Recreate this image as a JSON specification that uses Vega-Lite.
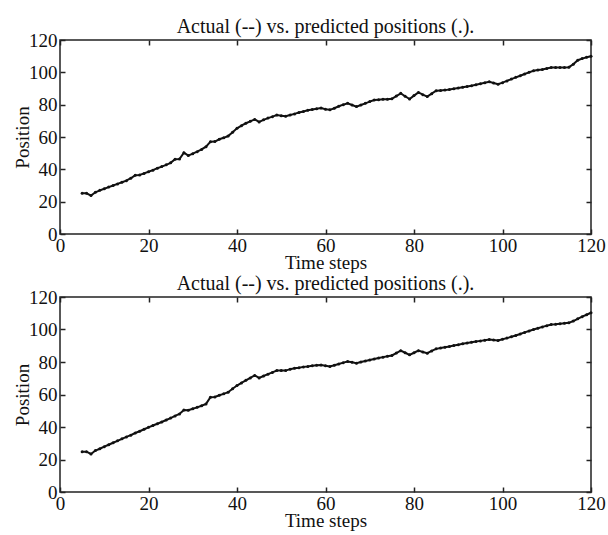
{
  "$schema": "https://vega.github.io/schema/vega-lite/v6.json",
  "background": "white",
  "padding": {"left": 12, "top": 16, "right": 10, "bottom": 0},
  "spacing": 0,
  "datasets": {
    "top": [
      {"t":5,"p":25.2},{"t":6,"p":25.2},{"t":7,"p":23.8},{"t":8,"p":25.8},{"t":9,"p":27},{"t":10,"p":28},{"t":11,"p":29},{"t":12,"p":30},{"t":13,"p":31},{"t":14,"p":32},{"t":15,"p":33},{"t":16,"p":34.5},{"t":17,"p":36.3},{"t":18,"p":36.5},{"t":19,"p":37.5},{"t":20,"p":38.5},{"t":21,"p":39.5},{"t":22,"p":40.7},{"t":23,"p":41.7},{"t":24,"p":42.8},{"t":25,"p":44},{"t":26,"p":46.2},{"t":27,"p":46.4},{"t":28,"p":50.3},{"t":29,"p":48.5},{"t":30,"p":49.7},{"t":31,"p":50.9},{"t":32,"p":52.3},{"t":33,"p":54},{"t":34,"p":57.1},{"t":35,"p":57.2},{"t":36,"p":58.6},{"t":37,"p":59.5},{"t":38,"p":60.6},{"t":39,"p":63},{"t":40,"p":65.4},{"t":41,"p":67},{"t":42,"p":68.5},{"t":43,"p":69.7},{"t":44,"p":70.9},{"t":45,"p":69.3},{"t":46,"p":70.6},{"t":47,"p":71.7},{"t":48,"p":72.6},{"t":49,"p":73.6},{"t":50,"p":73.2},{"t":51,"p":72.8},{"t":52,"p":73.6},{"t":53,"p":74.3},{"t":54,"p":75.2},{"t":55,"p":75.8},{"t":56,"p":76.5},{"t":57,"p":77},{"t":58,"p":77.5},{"t":59,"p":77.9},{"t":60,"p":77.2},{"t":61,"p":76.8},{"t":62,"p":77.8},{"t":63,"p":79},{"t":64,"p":80},{"t":65,"p":80.8},{"t":66,"p":79.8},{"t":67,"p":78.8},{"t":68,"p":79.8},{"t":69,"p":80.8},{"t":70,"p":81.9},{"t":71,"p":82.9},{"t":72,"p":83.1},{"t":73,"p":83.3},{"t":74,"p":83.4},{"t":75,"p":83.6},{"t":76,"p":85.3},{"t":77,"p":87},{"t":78,"p":85.2},{"t":79,"p":83.5},{"t":80,"p":85.6},{"t":81,"p":87.6},{"t":82,"p":86.2},{"t":83,"p":85},{"t":84,"p":86.8},{"t":85,"p":88.6},{"t":86,"p":88.8},{"t":87,"p":89},{"t":88,"p":89.4},{"t":89,"p":89.9},{"t":90,"p":90.3},{"t":91,"p":90.8},{"t":92,"p":91.3},{"t":93,"p":91.7},{"t":94,"p":92.3},{"t":95,"p":92.9},{"t":96,"p":93.5},{"t":97,"p":94.2},{"t":98,"p":93.4},{"t":99,"p":92.6},{"t":100,"p":93.6},{"t":101,"p":94.7},{"t":102,"p":95.8},{"t":103,"p":96.9},{"t":104,"p":97.9},{"t":105,"p":99},{"t":106,"p":100},{"t":107,"p":101},{"t":108,"p":101.4},{"t":109,"p":101.8},{"t":110,"p":102.4},{"t":111,"p":103},{"t":112,"p":103},{"t":113,"p":103},{"t":114,"p":103},{"t":115,"p":103.2},{"t":116,"p":105},{"t":117,"p":107.5},{"t":118,"p":108.5},{"t":119,"p":109.3},{"t":120,"p":110}
    ],
    "bottom": [
      {"t":5,"p":24.8},{"t":6,"p":24.8},{"t":7,"p":23.4},{"t":8,"p":25.5},{"t":9,"p":26.6},{"t":10,"p":27.9},{"t":11,"p":29.1},{"t":12,"p":30.3},{"t":13,"p":31.5},{"t":14,"p":32.7},{"t":15,"p":33.9},{"t":16,"p":35},{"t":17,"p":36.3},{"t":18,"p":37.4},{"t":19,"p":38.6},{"t":20,"p":39.8},{"t":21,"p":40.9},{"t":22,"p":42},{"t":23,"p":43.1},{"t":24,"p":44.3},{"t":25,"p":45.5},{"t":26,"p":46.8},{"t":27,"p":48},{"t":28,"p":50.5},{"t":29,"p":50.3},{"t":30,"p":51.2},{"t":31,"p":52.1},{"t":32,"p":53.1},{"t":33,"p":54.2},{"t":34,"p":58.3},{"t":35,"p":58.5},{"t":36,"p":59.5},{"t":37,"p":60.4},{"t":38,"p":61.4},{"t":39,"p":63.5},{"t":40,"p":65.5},{"t":41,"p":67.1},{"t":42,"p":68.7},{"t":43,"p":70.2},{"t":44,"p":71.7},{"t":45,"p":70.2},{"t":46,"p":71.4},{"t":47,"p":72.5},{"t":48,"p":73.6},{"t":49,"p":74.7},{"t":50,"p":74.7},{"t":51,"p":74.7},{"t":52,"p":75.6},{"t":53,"p":76.1},{"t":54,"p":76.5},{"t":55,"p":77},{"t":56,"p":77.3},{"t":57,"p":77.7},{"t":58,"p":78},{"t":59,"p":78.2},{"t":60,"p":77.7},{"t":61,"p":77.2},{"t":62,"p":78},{"t":63,"p":78.8},{"t":64,"p":79.6},{"t":65,"p":80.3},{"t":66,"p":79.8},{"t":67,"p":79.3},{"t":68,"p":80},{"t":69,"p":80.6},{"t":70,"p":81.2},{"t":71,"p":81.9},{"t":72,"p":82.4},{"t":73,"p":83},{"t":74,"p":83.5},{"t":75,"p":84},{"t":76,"p":85.5},{"t":77,"p":87},{"t":78,"p":85.7},{"t":79,"p":84.4},{"t":80,"p":85.7},{"t":81,"p":87},{"t":82,"p":86.2},{"t":83,"p":85.4},{"t":84,"p":86.8},{"t":85,"p":88.1},{"t":86,"p":88.6},{"t":87,"p":89.1},{"t":88,"p":89.6},{"t":89,"p":90.1},{"t":90,"p":90.6},{"t":91,"p":91.2},{"t":92,"p":91.7},{"t":93,"p":92.2},{"t":94,"p":92.6},{"t":95,"p":93},{"t":96,"p":93.4},{"t":97,"p":93.8},{"t":98,"p":93.5},{"t":99,"p":93.2},{"t":100,"p":94},{"t":101,"p":94.7},{"t":102,"p":95.5},{"t":103,"p":96.3},{"t":104,"p":97.2},{"t":105,"p":98.2},{"t":106,"p":99.1},{"t":107,"p":100},{"t":108,"p":100.8},{"t":109,"p":101.6},{"t":110,"p":102.3},{"t":111,"p":103.1},{"t":112,"p":103.3},{"t":113,"p":103.6},{"t":114,"p":103.9},{"t":115,"p":104.1},{"t":116,"p":105.2},{"t":117,"p":106.6},{"t":118,"p":107.9},{"t":119,"p":109.1},{"t":120,"p":110.3}
    ]
  },
  "vconcat": [
    {
      "width": 531,
      "height": 194,
      "title": "Actual (--) vs. predicted positions (.).",
      "data": {"name": "top"},
      "layer": [
        {
          "mark": {"type": "line", "color": "#111", "strokeWidth": 2, "point": {"filled": true, "size": 9, "color": "#111"}},
          "encoding": {
            "x": {"field": "t", "type": "quantitative", "scale": {"domain": [0, 120], "nice": false}, "axis": {"title": "Time steps", "values": [0,20,40,60,80,100,120]}},
            "y": {"field": "p", "type": "quantitative", "scale": {"domain": [0, 120], "nice": false}, "axis": {"title": "Position", "values": [0,20,40,60,80,100,120]}}
          }
        },
        {
          "mark": {"type": "line", "strokeOpacity": 0},
          "encoding": {
            "x": {"field": "t", "type": "quantitative", "axis": {"orient": "top", "labels": false, "title": null, "values": [0,20,40,60,80,100,120]}},
            "y": {"field": "p", "type": "quantitative", "axis": {"orient": "right", "labels": false, "title": null, "values": [0,20,40,60,80,100,120]}}
          }
        }
      ],
      "resolve": {"axis": {"x": "independent", "y": "independent"}}
    },
    {
      "width": 531,
      "height": 195,
      "title": "Actual (--) vs. predicted positions (.).",
      "data": {"name": "bottom"},
      "layer": [
        {
          "mark": {"type": "line", "color": "#111", "strokeWidth": 2, "point": {"filled": true, "size": 9, "color": "#111"}},
          "encoding": {
            "x": {"field": "t", "type": "quantitative", "scale": {"domain": [0, 120], "nice": false}, "axis": {"title": "Time steps", "values": [0,20,40,60,80,100,120]}},
            "y": {"field": "p", "type": "quantitative", "scale": {"domain": [0, 120], "nice": false}, "axis": {"title": "Position", "values": [0,20,40,60,80,100,120]}}
          }
        },
        {
          "mark": {"type": "line", "strokeOpacity": 0},
          "encoding": {
            "x": {"field": "t", "type": "quantitative", "axis": {"orient": "top", "labels": false, "title": null, "values": [0,20,40,60,80,100,120]}},
            "y": {"field": "p", "type": "quantitative", "axis": {"orient": "right", "labels": false, "title": null, "values": [0,20,40,60,80,100,120]}}
          }
        }
      ],
      "resolve": {"axis": {"x": "independent", "y": "independent"}}
    }
  ],
  "config": {
    "font": "Liberation Serif",
    "view": {"stroke": "#222", "strokeWidth": 1.5},
    "title": {"font": "Liberation Serif", "fontSize": 20, "fontWeight": "normal", "color": "#111", "offset": -6},
    "axis": {
      "grid": false,
      "domain": false,
      "tickColor": "#222",
      "tickSize": -5,
      "tickWidth": 1.5,
      "labelFont": "Liberation Serif",
      "labelFontSize": 19,
      "labelColor": "#111",
      "labelPadding": 7,
      "titleFont": "Liberation Serif",
      "titleFontSize": 19,
      "titleFontWeight": "normal",
      "titleColor": "#111",
      "titlePadding": -2
    },
    "axisX": {"labelFlush": false, "labelOverlap": false},
    "axisY": {"labelPadding": 8, "titlePadding": -4}
  }
}
